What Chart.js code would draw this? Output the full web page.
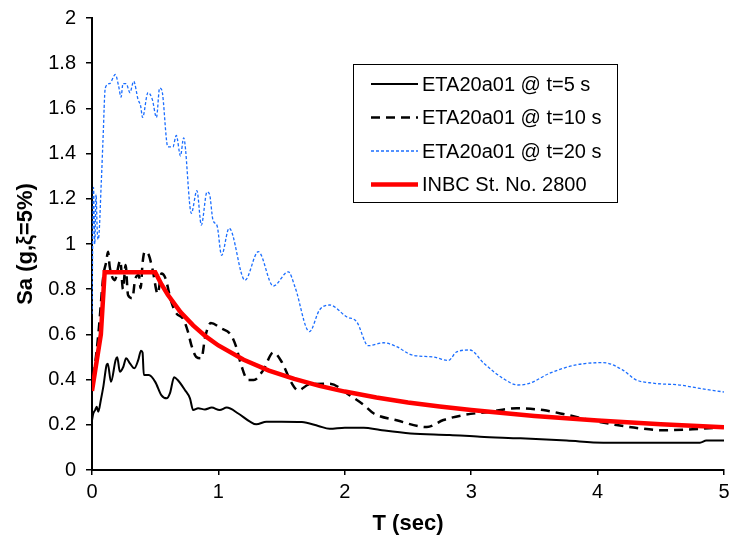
<!DOCTYPE html>
<html>
<head>
<meta charset="utf-8">
<script src="https://cdn.jsdelivr.net/npm/chart.js@4.4.1/dist/chart.umd.min.js"></script>
<style>
  html, body { margin: 0; padding: 0; background: #fff; }
  #wrap { width: 730px; height: 544px; position: relative; }
</style>
</head>
<body>
<div id="wrap"><canvas id="chartSa"></canvas></div>
<script>
// Espectros de respuesta (T en s, Sa en g)
const seriesNames = ["ETA20a01 @ t=5 s", "ETA20a01 @ t=10 s", "ETA20a01 @ t=20 s", "INBC St. No. 2800"];

const t5_T  = [0, 0.01, 0.025, 0.037, 0.05, 0.07, 0.09, 0.116, 0.125, 0.15, 0.187, 0.2, 0.22, 0.248, 0.27, 0.3, 0.335, 0.366, 0.388, 0.4, 0.41, 0.45, 0.5, 0.55, 0.59, 0.617, 0.65, 0.678, 0.735, 0.775, 0.8, 0.84, 0.894, 0.947, 1.01, 1.066, 1.157, 1.25, 1.3, 1.38, 1.5, 1.66, 1.79, 1.88, 2.0, 2.15, 2.28, 2.52, 2.83, 3.07, 3.39, 3.755, 4.045, 4.5, 4.81, 4.86, 5.0];
const t5_Sa = [0.22, 0.25, 0.265, 0.28, 0.258, 0.31, 0.37, 0.465, 0.47, 0.39, 0.487, 0.499, 0.435, 0.457, 0.494, 0.472, 0.45, 0.487, 0.528, 0.52, 0.42, 0.42, 0.39, 0.33, 0.317, 0.34, 0.41, 0.398, 0.354, 0.317, 0.265, 0.273, 0.268, 0.276, 0.265, 0.276, 0.25, 0.214, 0.202, 0.214, 0.214, 0.212, 0.195, 0.182, 0.187, 0.187, 0.177, 0.162, 0.155, 0.147, 0.14, 0.13, 0.121, 0.121, 0.121, 0.13, 0.13];

const t10_T  = [0, 0.05, 0.09, 0.112, 0.127, 0.14, 0.18, 0.224, 0.245, 0.266, 0.285, 0.32, 0.34, 0.37, 0.385, 0.4, 0.417, 0.45, 0.48, 0.52, 0.55, 0.58, 0.627, 0.667, 0.72, 0.76, 0.786, 0.825, 0.865, 0.896, 0.94, 1.02, 1.1, 1.14, 1.18, 1.234, 1.28, 1.355, 1.434, 1.5, 1.58, 1.63, 1.72, 1.88, 2.04, 2.15, 2.23, 2.41, 2.65, 2.78, 2.94, 3.15, 3.36, 3.57, 3.75, 3.94, 4.15, 4.34, 4.52, 4.75, 5.0];
const t10_Sa = [0.35, 0.6, 0.86, 0.92, 0.966, 0.9, 0.84, 0.926, 0.8, 0.907, 0.774, 0.76, 0.84, 0.863, 0.804, 0.915, 0.966, 0.95, 0.885, 0.78, 0.87, 0.85, 0.745, 0.693, 0.67, 0.61, 0.553, 0.5, 0.494, 0.59, 0.65, 0.627, 0.597, 0.546, 0.465, 0.398, 0.398, 0.442, 0.52, 0.479, 0.384, 0.352, 0.379, 0.382, 0.33, 0.288, 0.25, 0.22, 0.19, 0.221, 0.243, 0.258, 0.273, 0.265, 0.245, 0.221, 0.199, 0.184, 0.176, 0.18, 0.19];

const t20_T  = [0, 0.012, 0.022, 0.032, 0.042, 0.05, 0.074, 0.087, 0.105, 0.14, 0.185, 0.21, 0.23, 0.245, 0.27, 0.3, 0.33, 0.364, 0.385, 0.4, 0.443, 0.477, 0.51, 0.535, 0.553, 0.6, 0.64, 0.667, 0.7, 0.725, 0.786, 0.83, 0.865, 0.91, 0.93, 0.957, 0.99, 1.025, 1.085, 1.21, 1.316, 1.434, 1.553, 1.606, 1.72, 1.8, 1.88, 2.015, 2.094, 2.186, 2.305, 2.41, 2.53, 2.7, 2.82, 2.885, 2.99, 3.1, 3.25, 3.37, 3.465, 3.62, 3.83, 4.045, 4.2, 4.3, 4.44, 4.65, 4.81, 5.0];
const t20_Sa = [0.69, 1.25, 1.0, 1.22, 1.05, 1.02, 1.28, 1.46, 1.69, 1.71, 1.75, 1.7, 1.65, 1.71, 1.71, 1.67, 1.72, 1.64, 1.61, 1.56, 1.67, 1.64, 1.56, 1.69, 1.68, 1.43, 1.43, 1.48, 1.39, 1.47, 1.136, 1.236, 1.084, 1.23, 1.22, 1.106, 1.08, 0.95, 1.07, 0.84, 0.966, 0.814, 0.877, 0.81, 0.612, 0.708, 0.73, 0.678, 0.656, 0.55, 0.563, 0.546, 0.509, 0.5, 0.485, 0.523, 0.531, 0.472, 0.406, 0.376, 0.384, 0.428, 0.465, 0.475, 0.442, 0.4, 0.384, 0.376, 0.361, 0.345];

const inbc_T  = [0, 0.07, 0.1, 0.5, 0.55, 0.6, 0.7, 0.8, 0.9, 1.0, 1.2, 1.4, 1.6, 1.8, 2.0, 2.25, 2.5, 2.75, 3.0, 3.5, 4.0, 4.5, 5.0];
const inbc_Sa = [0.35, 0.6, 0.875, 0.875, 0.821, 0.775, 0.699, 0.64, 0.591, 0.551, 0.488, 0.44, 0.403, 0.372, 0.347, 0.321, 0.299, 0.281, 0.265, 0.239, 0.219, 0.202, 0.189];

const xTicks = [0, 1, 2, 3, 4, 5];
const yTicks = [0, 0.2, 0.4, 0.6, 0.8, 1, 1.2, 1.4, 1.6, 1.8, 2];

const toXY = (xs, ys) => xs.map((x, i) => ({ x: x, y: ys[i] }));

const FONT = 'Arial, "Liberation Sans", sans-serif';

// leyenda con marco dentro del área de trazado
const legendBox = {
    id: "legendBox",
    afterDraw(chart) {
        const ctx = chart.ctx;
        const x0 = 353, y0 = 64, w = 264, h = 138;
        ctx.save();
        ctx.fillStyle = "#fff";
        ctx.fillRect(x0, y0, w, h);
        ctx.strokeStyle = "#000";
        ctx.lineWidth = 1;
        ctx.strokeRect(x0 + 0.5, y0 + 0.5, w, h);
        [0, 1, 2, 3].forEach(r => {
            const ds = chart.data.datasets[r];
            const y = y0 + 20 + r * 33.5;
            ctx.beginPath();
            ctx.strokeStyle = ds.borderColor;
            ctx.lineWidth = ds.borderWidth;
            ctx.setLineDash(ds.borderDash || []);
            ctx.moveTo(371, y);
            ctx.lineTo(418, y);
            ctx.stroke();
            ctx.setLineDash([]);
            ctx.fillStyle = "#000";
            ctx.font = "20px " + FONT;
            ctx.textBaseline = "middle";
            ctx.textAlign = "left";
            ctx.fillText(ds.label, 422, y + 1);
        });
        ctx.restore();
    }
};

new Chart(document.getElementById("chartSa"), {
    type: "line",
    data: {
        datasets: [
            {
                label: seriesNames[0],
                data: toXY(t5_T, t5_Sa),
                borderColor: "#000",
                borderWidth: 2,
                order: 1
            },
            {
                label: seriesNames[1],
                data: toXY(t10_T, t10_Sa),
                borderColor: "#000",
                borderWidth: 2.5,
                borderDash: [9, 6],
                order: 2
            },
            {
                label: seriesNames[2],
                data: toXY(t20_T, t20_Sa),
                borderColor: "#1a6dff",
                borderWidth: 1.3,
                borderDash: [3, 2],
                order: 3
            },
            {
                label: seriesNames[3],
                data: toXY(inbc_T, inbc_Sa),
                borderColor: "#ff0000",
                borderWidth: 4.5,
                tension: 0,
                cubicInterpolationMode: "default",
                order: 0
            }
        ]
    },
    options: {
        responsive: true,
        maintainAspectRatio: false,
        animation: false,
        events: [],
        layout: { padding: { top: 18, right: 6, left: 0, bottom: 0 } },
        elements: {
            point: { radius: 0 },
            line: { cubicInterpolationMode: "monotone", borderCapStyle: "butt" }
        },
        plugins: {
            legend: { display: false },
            tooltip: { enabled: false }
        },
        scales: {
            x: {
                type: "linear",
                min: 0,
                max: 5,
                afterBuildTicks: s => { s.ticks = xTicks.map(v => ({ value: v })); },
                afterFit: s => { s.height = 74; s.paddingRight = 0; s.paddingLeft = 0; },
                grid: { drawOnChartArea: false, drawTicks: true, tickLength: 5, color: "#000", lineWidth: 1.5 },
                border: { color: "#000", width: 2 },
                ticks: { color: "#000", padding: 5, maxRotation: 0, font: { family: FONT, size: 20 }, callback: v => String(v) },
                title: {
                    display: true,
                    text: "T (sec)",
                    color: "#000",
                    font: { family: FONT, size: 22, weight: "bold" },
                    padding: { top: 0, bottom: 7 }
                }
            },
            y: {
                min: 0,
                max: 2,
                afterBuildTicks: s => { s.ticks = yTicks.map(v => ({ value: v })); },
                afterFit: s => { s.width = 92; s.paddingTop = 0; s.paddingBottom = 0; },
                grid: { drawOnChartArea: false, drawTicks: true, tickLength: 6, color: "#000", lineWidth: 1.5 },
                border: { color: "#000", width: 2 },
                ticks: { color: "#000", padding: 10, font: { family: FONT, size: 20 }, callback: v => String(+v.toFixed(1)) },
                title: {
                    display: true,
                    text: "Sa (g,ξ=5%)",
                    color: "#000",
                    font: { family: FONT, size: 22, weight: "bold" },
                    padding: { top: 13, bottom: 0 }
                }
            }
        }
    },
    plugins: [legendBox]
});
</script>
</body>
</html>
